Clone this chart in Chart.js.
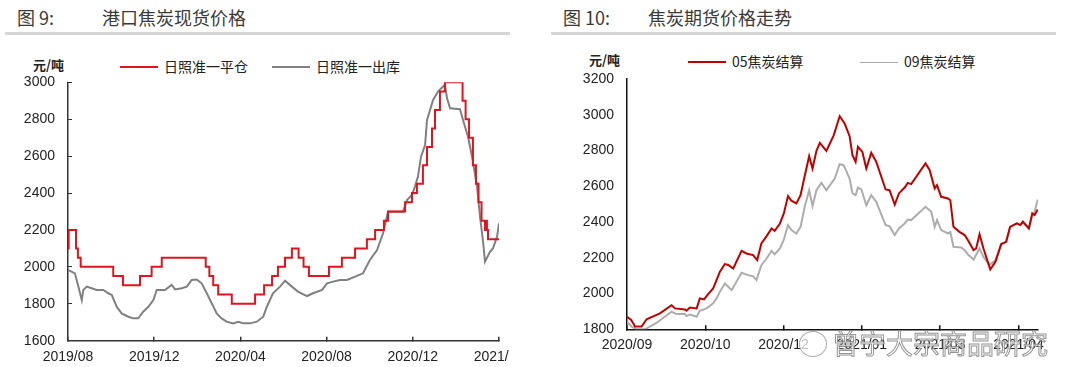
<!DOCTYPE html>
<html>
<head>
<meta charset="utf-8">
<script src="https://cdn.jsdelivr.net/npm/chart.js@4.4.1/dist/chart.umd.min.js"></script>
<style>
    body { margin: 0; background: #fff; width: 1080px; height: 367px; overflow: hidden; position: relative;
           font-family: "Noto Sans CJK SC", sans-serif; }
    .panel { position: absolute; top: 0; height: 367px; overflow: hidden; }
    .title { position: absolute; top: 5px; font-size: 18px; line-height: 24px; color: #3a3a3a; white-space: nowrap; }
    .rule { position: absolute; top: 32px; height: 3px; background: #d6d6d6; }
    .unit { position: absolute; font-size: 13px; line-height: 18px; font-weight: bold; color: #222; }
    .leg { position: absolute; font-size: 14px; line-height: 18px; color: #222; white-space: nowrap; }
    .leg i { display: inline-block; width: 38px; vertical-align: middle; margin-right: 6px; position: relative; top: -1px; }
    .mark { position: absolute; left: 832px; top: 326px; font-size: 27px; line-height: 34px; color: #fff;
            -webkit-text-stroke: 1px #8a8a8a; white-space: nowrap; opacity: 0.9; }
    .bubble { position: absolute; left: 799px; top: 331px; width: 26px; height: 24px; border: 1px solid #aaa;
              border-radius: 50%; background: rgba(255,255,255,0.7); }
</style>
</head>
<body>

<!-- left: 图9 -->
<div class="title" style="left:17px">图 9:</div>
<div class="title" style="left:102px">港口焦炭现货价格</div>
<div class="rule" style="left:5px;width:505px"></div>
<div class="unit" style="left:33px;top:56px">元/吨</div>
<div class="leg" style="left:120px;top:57px"><i style="height:2px;background:#e0141e"></i>日照准一平仓</div>
<div class="leg" style="left:272px;top:57px"><i style="height:2px;background:#808080"></i>日照准一出库</div>
<div class="panel" style="left:0;width:509px">
    <canvas id="spotChart" width="560" height="367" style="width:560px;height:367px"></canvas>
</div>

<!-- right: 图10 -->
<div class="title" style="left:563px">图 10:</div>
<div class="title" style="left:648px">焦炭期货价格走势</div>
<div class="rule" style="left:551px;width:505px"></div>
<div class="unit" style="left:589px;top:51px">元/吨</div>
<div class="leg" style="left:688px;top:52px"><i style="height:2px;background:#c00000"></i>05焦炭结算</div>
<div class="leg" style="left:860px;top:52px"><i style="height:1px;background:#a8a8a8"></i>09焦炭结算</div>
<div class="panel" style="left:540px;width:540px">
    <canvas id="futChart" width="540" height="367" style="width:540px;height:367px"></canvas>
</div>

<div class="bubble"></div>
<div class="mark">曾宁大宗商品研究</div>

<script>
// ---- 图9 港口焦炭现货价格 (x = months since 2019/08) ----
const spotTickLabels = ['2019/08', '2019/12', '2020/04', '2020/08', '2020/12', '2021/04'];

// 日照准一平仓: stepped price, value holds from each x until the next
const pingcangMonth = [0, 0.03, 0.37, 0.46, 0.59, 2.10, 2.55, 3.34, 3.88, 4.35, 6.39, 6.56, 6.74, 6.97, 7.60,
    8.68, 9.10, 9.47, 9.74, 10.07, 10.39, 10.70, 10.93, 11.18, 12.11, 12.71, 13.32, 13.87, 14.25, 14.66, 14.85,
    15.64, 15.96, 16.19, 16.47, 16.66, 16.89, 17.03, 17.26, 17.49, 18.31, 18.45, 18.61, 18.79, 18.93, 19.05,
    19.19, 19.35, 19.42, 19.44, 19.49, 20];
const pingcangPrice = [2100, 2200, 2100, 2050, 2000, 1950, 1900, 1950, 2000, 2050, 2000, 1950, 1900, 1850, 1800,
    1850, 1900, 1950, 2000, 2050, 2100, 2050, 2000, 1950, 2000, 2050, 2100, 2150, 2200, 2250, 2300,
    2350, 2400, 2450, 2550, 2650, 2750, 2850, 2950, 3000, 2900, 2800, 2700, 2550, 2450, 2350,
    2250, 2200, 2250, 2200, 2150, 2150];

// 日照准一出库
const chukuMonth = [0, 0.32, 0.48, 0.64, 0.71, 0.87, 1.10, 1.33, 1.64, 1.87, 2.03, 2.26, 2.49, 2.80, 3.03, 3.26,
    3.49, 3.73, 3.96, 4.12, 4.27, 4.50, 4.81, 4.97, 5.28, 5.51, 5.74, 5.97, 6.20, 6.44, 6.67, 6.90, 7.13, 7.36,
    7.67, 7.90, 8.13, 8.45, 8.76, 9.06, 9.23, 9.51, 9.84, 10.07, 10.39, 10.67, 11.09, 11.37, 11.79, 12.02, 12.30,
    12.62, 12.95, 13.32, 13.69, 14.01, 14.34, 14.62, 14.85, 15.08, 15.55, 15.73, 15.96, 16.10, 16.24, 16.38,
    16.57, 16.66, 16.80, 16.94, 17.17, 17.40, 17.49, 17.59, 17.73, 18.19, 18.33, 18.56, 18.75, 18.98, 19.12,
    19.26, 19.35, 19.58, 19.72, 19.91, 20];
const chukuPrice = [1983, 1965, 1893, 1820, 1875, 1893, 1884, 1875, 1875, 1857, 1848, 1784, 1748, 1730, 1721, 1721,
    1757, 1784, 1820, 1875, 1875, 1875, 1902, 1878, 1884, 1893, 1929, 1932, 1911, 1857, 1802, 1748, 1721, 1703,
    1694, 1703, 1694, 1694, 1703, 1730, 1784, 1857, 1893, 1925, 1893, 1866, 1842, 1857, 1875, 1911, 1920,
    1929, 1929, 1947, 1965, 2037, 2091, 2182, 2299, 2299, 2299, 2362, 2390, 2435, 2489, 2597,
    2660, 2796, 2850, 2904, 2950, 2977, 2986, 2913, 2859, 2854, 2796, 2706, 2597, 2435, 2272,
    2137, 2028, 2082, 2100, 2164, 2236];

// ---- 图10 焦炭期货价格走势 (x = trading days since 2020/09) ----
const futTickLabels = ['2020/09', '2020/10', '2020/12', '2021/01', '2021/03', '2021/04'];

const j05Day = [0, 1.6, 3.1, 5.6, 7.5, 12.6, 17.1, 18.4, 22.2, 22.8, 24.1, 26.7, 27.9, 29.5, 31.1, 33.0, 34.3,
    35.6, 37.5, 38.8, 40.7, 43.9, 45.8, 48.3, 49.9, 51.5, 53.5, 55.4, 56.6, 58.6, 60.1, 61.7, 63.0, 64.9, 66.5,
    68.1, 69.8, 71.1, 72.6, 73.9, 76.4, 79.2, 81.5, 83.4, 85.3, 86.4, 87.6, 88.5, 90.2, 91.7, 93.6, 95.5, 99.1,
    100.6, 102.6, 104.2, 106.4, 107.6, 108.9, 114.4, 116.0, 117.9, 118.8, 120.4, 123.0, 123.9, 125.1, 127.4,
    129.4, 130.6, 132.8, 133.8, 135.1, 136.6, 139.2, 141.2, 143.4, 145.3, 146.8, 149.4, 150.7, 151.7, 154.0,
    155.3, 156.2, 157.4];
const j05Price = [1870, 1852, 1815, 1815, 1856, 1889, 1935, 1917, 1911, 1904, 1922, 1917, 1973, 1967, 1997, 2028, 2075,
    2122, 2165, 2160, 2140, 2239, 2224, 2215, 2187, 2280, 2321, 2364, 2351, 2392, 2448, 2545, 2519, 2504, 2550,
    2657, 2768, 2699, 2798, 2843, 2798, 2885, 2992, 2951, 2880, 2774, 2737, 2821, 2792, 2699, 2787, 2737, 2582,
    2578, 2498, 2560, 2593, 2619, 2612, 2728, 2690, 2588, 2606, 2541, 2532, 2522, 2373, 2345,
    2327, 2299, 2243, 2252, 2332, 2252, 2135, 2178, 2276, 2289, 2373, 2392, 2383, 2402, 2364,
    2448, 2439, 2470];

const j09Day = [0, 1.8, 3.7, 6.9, 11.4, 17.1, 19.0, 22.2, 22.8, 24.1, 26.7, 27.9, 30.5, 33.0, 34.3, 35.6, 37.5,
    38.8, 40.1, 43.9, 46.4, 48.3, 49.6, 51.5, 53.5, 55.4, 56.6, 58.6, 60.1, 61.7, 63.0, 64.9, 66.5, 68.1, 69.8,
    71.1, 72.6, 74.5, 76.4, 79.6, 81.5, 83.0, 85.3, 86.4, 87.6, 88.5, 89.8, 91.7, 93.6, 95.5, 99.1, 100.6, 102.6,
    104.2, 106.4, 107.6, 108.9, 114.4, 116.6, 117.9, 118.8, 120.4, 123.0, 123.9, 125.1, 128.1, 129.4, 130.6,
    132.8, 135.1, 136.6, 138.9, 141.2, 143.4, 145.3, 146.8, 149.4, 150.7, 151.7, 154.0, 155.3, 156.2, 157.4];
const j09Price = [1842, 1815, 1800, 1800, 1837, 1898, 1885, 1885, 1874, 1883, 1870, 1904, 1917, 1945, 1973, 2010, 2056,
    2038, 2019, 2116, 2103, 2097, 2075, 2159, 2196, 2239, 2220, 2252, 2302, 2383, 2355, 2336, 2373, 2485, 2578,
    2489, 2578, 2619, 2578, 2643, 2724, 2718, 2643, 2560, 2550, 2593, 2582, 2494, 2550, 2513, 2383, 2377, 2327,
    2364, 2392, 2414, 2411, 2485, 2457, 2373, 2411, 2355, 2336, 2345, 2262, 2258, 2243, 2220,
    2190, 2252, 2205, 2159, 2187, 2280, 2289, 2373, 2392, 2383, 2396, 2364, 2439, 2457, 2526];

Chart.defaults.font.family = '"Liberation Sans", Arial, sans-serif';
Chart.defaults.font.size = 14;
Chart.defaults.color = '#222';
Chart.defaults.devicePixelRatio = 1;

function toPoints(xs, ys) {
    return xs.map((x, i) => ({ x: x, y: ys[i] }));
}

function lineSet(label, points, color, extra) {
    return Object.assign({
        label: label,
        data: points,
        borderColor: color,
        backgroundColor: color,
        borderWidth: 2,
        pointRadius: 0,
        tension: 0,
        fill: false
    }, extra || {});
}

// plain numbers on the value axis, no thousands separator
const plainNumber = v => String(v);

// 图9
new Chart(document.getElementById('spotChart'), {
    type: 'line',
    data: {
        datasets: [
            lineSet('日照准一平仓', toPoints(pingcangMonth, pingcangPrice), '#e0141e', { stepped: true }),
            lineSet('日照准一出库', toPoints(chukuMonth, chukuPrice), '#808080')
        ]
    },
    options: {
        responsive: false,
        animation: false,
        layout: { padding: { left: 0, top: 82.3, right: 61, bottom: 0 } },
        plugins: { legend: { display: false }, tooltip: { enabled: false } },
        scales: {
            x: {
                type: 'linear',
                min: 0,
                max: 20,
                afterFit: s => { s.height = 26.3; },
                border: { color: '#333', width: 1.5 },
                grid: { drawOnChartArea: false, tickLength: -4, color: '#333', lineWidth: 1.5 },
                ticks: {
                    stepSize: 4,
                    padding: 12,
                    maxRotation: 0,
                    autoSkip: false,
                    callback: v => spotTickLabels[v / 4] || ''
                }
            },
            y: {
                min: 1600,
                max: 3000,
                afterFit: s => { s.width = 68; },
                border: { color: '#333', width: 1.5 },
                grid: { drawOnChartArea: false, tickLength: -4, color: '#333', lineWidth: 1 },
                ticks: { stepSize: 200, padding: 17, callback: plainNumber }
            }
        }
    }
});

// 图10
new Chart(document.getElementById('futChart'), {
    type: 'line',
    data: {
        datasets: [
            lineSet('05焦炭结算', toPoints(j05Day, j05Price), '#c00000'),
            lineSet('09焦炭结算', toPoints(j09Day, j09Price), '#adadad')
        ]
    },
    options: {
        responsive: false,
        animation: false,
        layout: { padding: { left: 0, top: 79, right: 42, bottom: 0 } },
        plugins: { legend: { display: false }, tooltip: { enabled: false } },
        scales: {
            x: {
                type: 'linear',
                min: 0,
                max: 157.5,
                afterFit: s => { s.height = 37.7; },
                border: { color: '#111', width: 1.5 },
                grid: { drawOnChartArea: false, tickLength: -4, color: '#111', lineWidth: 1.5 },
                ticks: {
                    stepSize: 30,
                    includeBounds: false,
                    padding: 11,
                    maxRotation: 0,
                    autoSkip: false,
                    callback: v => futTickLabels[v / 30] || ''
                }
            },
            y: {
                min: 1800,
                max: 3200,
                afterFit: s => { s.width = 87; },
                border: { color: '#111', width: 1.5 },
                grid: { drawOnChartArea: false, drawTicks: false },
                ticks: { stepSize: 200, padding: 13, callback: plainNumber }
            }
        }
    }
});
</script>
</body>
</html>
